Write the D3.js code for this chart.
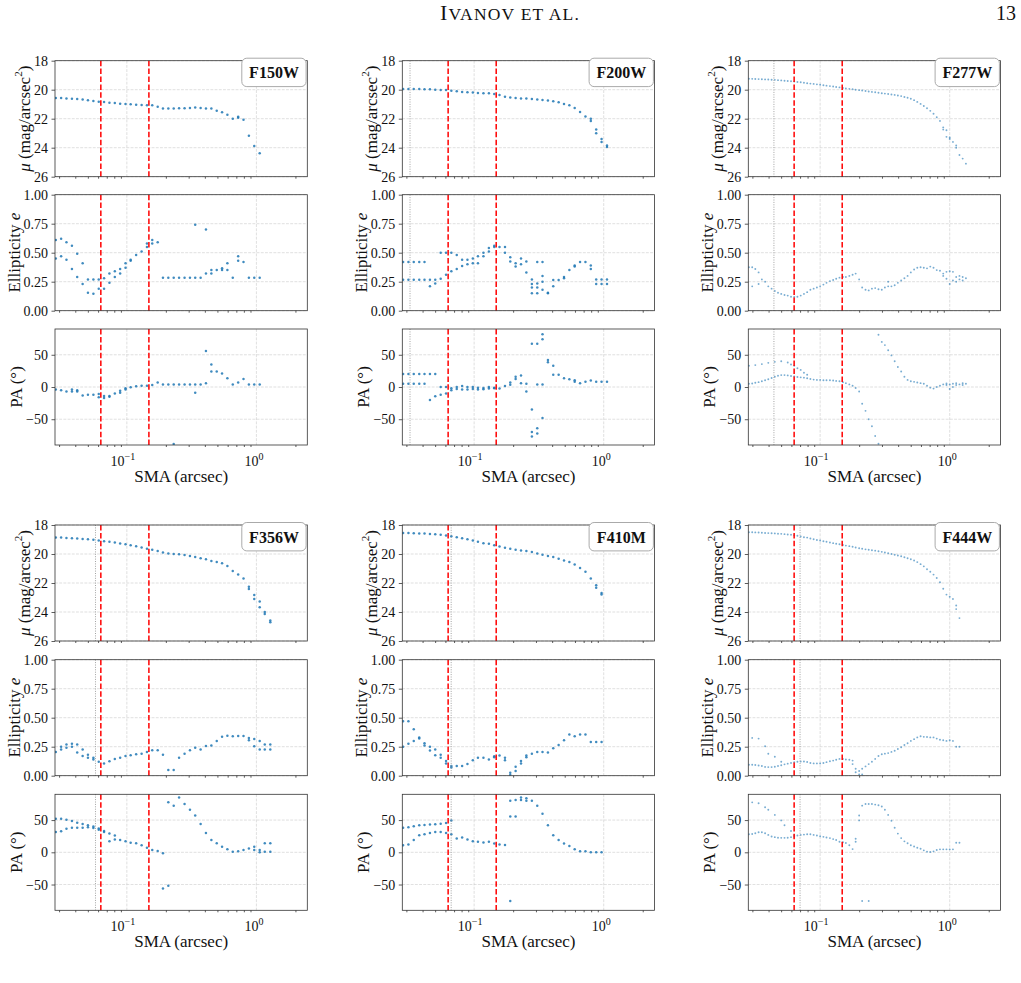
<!DOCTYPE html>
<html>
<head>
<meta charset="utf-8">
<script src="https://cdn.jsdelivr.net/npm/d3@7"></script>
<style>
  body { margin: 0; background: #fff; overflow: hidden; }
  svg { display: block; }
</style>
</head>
<body>
<script>
// ---- data ----
const filters = ["F150W", "F200W", "F277W", "F356W", "F410M", "F444W"];
const psfLines = [null, 0.032, 0.044, 0.0573, 0.0665, 0.070];   // grey dotted
const apertureLines = [0.063, 0.148];                           // red dashed

const muTicks = [18, 20, 22, 24, 26];
const eTicks = [0, 0.25, 0.5, 0.75, 1];
const paTicks = [-50, 0, 50];
const xMajor = [0.1, 1];
const xMinor = [0.03, 0.04, 0.05, 0.06, 0.07, 0.08, 0.09, 0.2, 0.3, 0.4, 0.5, 0.6, 0.7, 0.8, 0.9, 2];

// isophote grids (SMA, arcsec)
const smaCoarse = [0.0283,0.0311,0.0342,0.0377,0.0414,0.0456,0.0501,0.0552,0.0607,0.0667,0.0734,0.0808,0.0888,0.0977,0.107,0.118,0.130,0.143,0.157,0.173,0.190,0.209,0.230,0.253,0.279,0.307,0.337,0.371,0.408,0.449,0.494,0.543,0.597,0.657,0.723,0.795,0.875,0.962,1.06,1.16,1.28];
const smaFine = [0.0282,0.0299,0.0316,0.0335,0.0355,0.0376,0.0398,0.0422,0.0447,0.0473,0.0501,0.0531,0.0562,0.0596,0.0631,0.0668,0.0708,0.0750,0.0794,0.0841,0.0891,0.0944,0.100,0.106,0.112,0.119,0.126,0.133,0.141,0.150,0.158,0.168,0.178,0.188,0.200,0.211,0.224,0.237,0.251,0.266,0.282,0.299,0.316,0.335,0.355,0.376,0.398,0.422,0.447,0.473,0.501,0.531,0.562,0.596,0.631,0.668,0.708,0.750,0.794,0.841,0.891,0.944,1.000,1.059,1.122,1.189,1.259,1.334];

// F150W
const muF150W = [20.57,20.57,20.6,20.62,20.64,20.67,20.73,20.78,20.83,20.85,20.9,20.92,20.97,20.99,21.01,21.03,21.06,21.08,21.08,21.17,21.29,21.29,21.29,21.28,21.28,21.26,21.22,21.26,21.3,21.29,21.45,21.56,21.72,22.0,21.86,22.07,23.17,23.88,24.39,null,null];
const muF150WX = [[0.723,21.93]];
const eF150W = [.61,.62,.59,.56,.49,.41,.27,.27,.27,.19,.24,.29,.32,.37,.43,.48,.51,.55,.58,.59,.285,.285,.285,.285,.285,.285,.285,.285,.32,.35,.35,.365,.41,.285,.47,.42,.285,.285,.285,null,null];
const eF150WX = [[.0283,.45],[.0311,.47],[.0342,.44],[.0377,.36],[.0414,.29],[.0456,.23],[.0501,.155],[.0552,.147],[.0607,.19],[.0667,.28],[.0734,.32],[.0808,.34],[.0888,.36],[.0977,.41],[.107,.44],[.143,.58],[.157,.61],[.337,.74],[.408,.70],[.449,.32],[.543,.35],[.597,.35],[.723,.43]];
const paF150W = [-4,-5,-7,-4,-5,-13,-12,-12,-16,-17,-15,-10,-9,-4,-0.5,1,2,2,3,7,4,4,4,4,4,4,4,4,6,35,24,21,13.5,4,7,12.5,4,4,4,null,null];
const paF150WX = [[.0377,-7],[.0414,-7],[.0607,-11],[.0667,-14],[.0734,-14],[.0888,-6],[.0977,-2],[.337,-9],[.408,56],[.449,24],[.230,-88.5]];

// F200W
const muF200W = [19.95,19.95,19.95,19.95,19.97,19.97,20.0,20.02,20.02,20.07,20.11,20.16,20.18,20.2,20.23,20.25,20.25,20.3,20.37,20.48,20.53,20.57,20.6,20.6,20.64,20.67,20.71,20.74,20.8,20.87,20.99,21.08,21.26,21.54,21.85,22.0,22.75,23.4,23.85,null,null];
const muF200WX = [[.795,22.15],[.875,23.0],[.962,23.6],[1.06,23.95]];
const eF200W = [.42,.42,.42,.42,.42,.267,.267,.275,.31,.34,.36,.385,.4,.41,.41,.47,.54,.56,.55,.55,.46,.38,.40,.425,.27,.42,.42,.155,.21,.265,.28,.35,.38,.42,.42,.39,.27,.27,.27,null,null];
const eF200WX = [[.0283,.267],[.0311,.267],[.0342,.267],[.0377,.267],[.0414,.267],[.0456,.21],[.0501,.235],[.0552,.5],[.0607,.5],[.0667,.5],[.0734,.48],[.0808,.44],[.0888,.44],[.0977,.45],[.107,.47],[.118,.5],[.130,.51],[.143,.55],[.173,.5],[.190,.425],[.209,.41],[.230,.45],[.253,.33],[.279,.23],[.279,.2],[.279,.15],[.307,.235],[.307,.2],[.307,.15],[.337,.3],[.337,.25],[.337,.18],[.371,.15],[.408,.265],[.494,.29],[.597,.39],[.795,.36],[.875,.23],[.962,.23],[1.06,.23]];
const paF200W = [20,20,20,20,20,20,20,-12,-10,-5,-3,-4,-4,-3,-4,-3.5,-2.5,-2,-2.5,1.5,7,12.5,18,-7,-35,-64,-48,42,33,19,13.5,12,8,6,8,10,8,8,8,null,null];
const paF200WX = [[.0283,5],[.0311,5],[.0342,5],[.0377,5],[.0414,5],[.0456,-20],[.0501,-14.5],[.0552,0],[.0607,0],[.0667,-2],[.0734,0],[.0808,1.5],[.0888,0],[.0977,0],[.107,-1],[.118,-1.5],[.130,0],[.143,-1],[.190,3.5],[.209,16],[.230,5.7],[.253,5],[.279,-70],[.279,-77],[.279,67],[.307,-72],[.307,67],[.307,4],[.337,74],[.337,82],[.337,4],[.371,38.5],[.408,19],[.597,10.5]];

// F277W
const muF277W = [19.24,19.25,19.26,19.27,19.28,19.29,19.3,19.31,19.32,19.34,19.36,19.38,19.4,19.42,19.44,19.47,19.49,19.52,19.55,19.58,19.6,19.63,19.66,19.69,19.72,19.75,19.78,19.81,19.84,19.88,19.91,19.94,19.97,20.0,20.03,20.06,20.09,20.12,20.15,20.18,20.21,20.24,20.27,20.3,20.33,20.36,20.4,20.44,20.5,20.55,20.62,20.72,20.84,20.98,21.12,21.28,21.46,21.66,21.9,22.15,22.6,22.8,23.3,23.6,23.85,24.5,24.75,25.1];
const muF277WX = [[.891,22.75],[.944,23.25],[1.0,23.4],[1.122,24.0]];
const eF277W = [.375,.375,.36,.33,.27,.25,.21,.19,.17,.155,.145,.135,.13,.12,.118,.12,.13,.145,.16,.18,.19,.2,.21,.225,.24,.255,.265,.275,.285,.29,.29,.3,.31,.32,.27,.2,.18,.175,.19,.195,.185,.18,.2,.21,.21,.22,.24,.26,.28,.3,.33,.355,.37,.375,.37,.365,.38,.37,.35,.345,.32,.275,.23,.335,.29,.27,.29,.28];
const eF277WX = [[.0299,.21],[.0335,.23],[.335,.25],[.891,.30],[.944,.335],[1.0,.34],[1.059,.26],[1.122,.25],[1.189,.3],[1.259,.26]];
const paF277W = [5,5.5,6.5,7.5,9,10.5,12,14,16,17.5,18.5,18.5,18,17,16.5,15.5,15,14.5,13.5,12.5,11.5,11,11,10.5,10.5,10.4,10,9.5,9,7.5,6,4,2,-1.5,-7,-26,-37,-50,-61,-76,-88,70,65,57,49,40,31,24,16,11,9,8,7,6,5,2,-1,-2.5,0,2,4,5.5,-3,0,6,4,6,5];
const paF277WX = [[.0282,33],[.0316,34],[.0355,35.5],[.0398,37.5],[.0447,39],[.0501,40],[.0562,38],[.0596,35],[.0631,33],[.0668,29],[.0708,26.5],[.0750,22],[.0794,19],[.282,81],[.944,3],[1.0,4],[1.059,5],[1.122,3],[1.259,3]];

// F356W
const muF356W = [18.87,18.87,18.89,18.91,18.93,18.96,18.98,19.02,19.07,19.12,19.16,19.2,19.28,19.32,19.39,19.46,19.55,19.64,19.71,19.8,19.89,19.96,20.0,20.02,20.07,20.14,20.21,20.3,20.37,20.48,20.55,20.64,20.82,21.17,21.42,21.69,22.26,22.83,23.28,24.0,24.58];
const muF356WX = [[.875,22.42],[.962,23.1],[1.06,23.67],[1.16,24.13],[1.28,24.7]];
const eF356W = [.205,.225,.24,.25,.2,.17,.155,.14,.12,.105,.125,.143,.155,.17,.177,.185,.19,.205,.22,.22,.18,.05,.05,.155,.19,.22,.24,.225,.255,.26,.3,.335,.345,.34,.343,.343,.325,.317,.3,.27,.27];
const eF356WX = [[.0311,.25],[.0342,.27],[.0377,.275],[.0414,.27],[.0456,.225],[.0501,.18],[.0552,.155],[.875,.305],[.962,.254],[1.06,.225],[1.16,.225],[1.28,.225]];
const paF356W = [31.6,32.6,36.7,38,38,38,39,37.8,35,31.6,17,20,19,17,15,14,11,7,3.5,2,-1.5,-52,72.4,85,75,66,57,44,30,19,14,8.7,4.6,1,1.5,3.6,6,8.7,3.6,14,14];
const paF356WX = [[.0283,52],[.0311,52],[.0342,50.5],[.0377,48.5],[.0414,46],[.0456,44],[.0501,42],[.0552,40],[.0607,37],[.0667,33],[.0734,29],[.0808,26],[.190,-56],[.209,77.5],[.962,3.6],[1.06,0],[1.16,1],[1.28,1]];

// F410M
const muF410M = [18.55,18.55,18.57,18.59,18.59,18.62,18.64,18.68,18.73,18.77,18.84,18.91,18.98,19.07,19.16,19.25,19.3,19.39,19.48,19.57,19.64,19.71,19.75,19.8,19.87,19.96,20.05,20.14,20.21,20.32,20.44,20.55,20.73,20.96,21.23,21.69,22.15,22.69,null,null,null];
const muF410MX = [[.875,22.33],[.962,22.8]];
const eF410M = [.47,.47,.4,.33,.28,.217,.177,.155,.126,.083,.083,.083,.1,.134,.155,.155,.14,.16,.175,.155,.026,.077,.126,.175,.19,.205,.205,.2,.237,.265,.305,.355,.34,.355,.355,.29,.29,.29,null,null,null];
const eF410MX = [[.0283,.25],[.0311,.275],[.0342,.3],[.0377,.32],[.0414,.26],[.0456,.25],[.0501,.225],[.0552,.18],[.0607,.105],[.0667,.07],[.143,.168],[.173,.134],[.190,.006],[.209,.04],[.230,.105],[.253,.16]];
const paF410M = [11,12,19,26.5,28,30,31.6,31.6,30,28,21.4,23,20,17.3,16.3,15.3,16.3,13.8,12.2,11.2,-75.5,55.6,85,84,80,72.4,60,42,26.5,19,13.8,9.7,4.6,1.5,1.5,0,0,0,null,null,null];
const paF410MX = [[.0283,38],[.0311,39],[.0342,40.5],[.0377,42],[.0414,42.5],[.0456,43],[.0501,43.4],[.0552,44.4],[.0607,45.4],[.0667,49.5],[.190,80],[.190,55.6],[.209,81],[.230,81],[.253,80]];

// F444W
const muF444W = [18.5,18.5,18.51,18.52,18.53,18.55,18.56,18.57,18.58,18.6,18.61,18.63,18.65,18.67,18.7,18.74,18.79,18.84,18.87,18.93,18.98,19.03,19.07,19.12,19.16,19.21,19.25,19.29,19.33,19.38,19.42,19.46,19.5,19.55,19.6,19.64,19.68,19.71,19.74,19.77,19.81,19.85,19.9,19.95,20.0,20.05,20.1,20.16,20.22,20.29,20.36,20.45,20.56,20.7,20.85,21.05,21.22,21.42,21.65,21.95,22.4,22.8,22.95,23.1,23.55,24.42,null,null];
const muF444WX = [[1.122,23.8]];
const eF444W = [.094,.095,.092,.088,.083,.076,.074,.074,.077,.083,.09,.098,.104,.11,.116,.12,.123,.123,.118,.11,.106,.106,.106,.11,.117,.125,.13,.138,.145,.145,.14,.138,.1,.03,.011,.011,.08,.1,.12,.145,.17,.185,.19,.195,.205,.215,.23,.245,.265,.28,.3,.315,.33,.34,.335,.333,.33,.33,.32,.31,.305,.3,.305,.3,.25,.25,null,null];
const eF444WX = [[.0299,.326],[.0335,.32],[.0376,.254],[.0398,.189],[.0447,.163],[.0501,.12],[.178,.13],[.188,.06],[.200,.04],[.211,.06]];
const paF444W = [28,28.5,29.5,31,31,29.5,27,24.5,23.5,22.5,22.4,22.4,22.5,23.5,24,26,27,27.5,28,28,27,26,25,24,23,22,20.5,19,16.3,15.5,14.5,11,5,21,57,72.4,75,75,75,74,73,71,66,58,49,38,29,22,17,14,11,9,7,5.5,3,1,0.5,1.5,3.5,4.6,4.6,4.6,4.6,4.6,14.8,14.8,null,null];
const paF444WX = [[.0299,77.5],[.0335,76],[.0376,70],[.0398,66],[.0447,58],[.0501,49.5],[.0531,42],[.0596,33],[.0631,26.5],[.188,16.3],[.200,49.5],[.211,-75.5],[.237,-75.5]];

// ---- layout ----
const xDomain = [0.0279, 2.47];
const colLeft = [55, 402.3, 748.3];
const axW = 252.3, axH = 116;
const rowTops = [[60.7, 194.7, 329], [525, 659.7, 794.3]];
const serif = '"Liberation Serif", "DejaVu Serif", serif';
const blue = "#1f77b4";

const profiles = [
    {sma: smaCoarse, mu: muF150W, muX: muF150WX, e: eF150W, eX: eF150WX, pa: paF150W, paX: paF150WX, dense: false},
    {sma: smaCoarse, mu: muF200W, muX: muF200WX, e: eF200W, eX: eF200WX, pa: paF200W, paX: paF200WX, dense: false},
    {sma: smaFine, mu: muF277W, muX: muF277WX, e: eF277W, eX: eF277WX, pa: paF277W, paX: paF277WX, dense: true},
    {sma: smaCoarse, mu: muF356W, muX: muF356WX, e: eF356W, eX: eF356WX, pa: paF356W, paX: paF356WX, dense: false},
    {sma: smaCoarse, mu: muF410M, muX: muF410MX, e: eF410M, eX: eF410MX, pa: paF410M, paX: paF410MX, dense: false},
    {sma: smaFine, mu: muF444W, muX: muF444WX, e: eF444W, eX: eF444WX, pa: paF444W, paX: paF444WX, dense: true},
];

const svg = d3.select("body").append("svg")
    .attr("width", 1021)
    .attr("height", 983)
    .style("font-family", serif);
const defs = svg.append("defs");

// running head
svg.append("text")
    .attr("x", 510).attr("y", 20)
    .attr("text-anchor", "middle")
    .attr("letter-spacing", 1.2)
    .attr("fill", "#111")
    .call(t => {
        t.append("tspan").attr("font-size", 22).text("I");
        t.append("tspan").attr("font-size", 17.5).text("VANOV ET AL.");
    });
svg.append("text")
    .attr("x", 1016).attr("y", 20)
    .attr("text-anchor", "end")
    .attr("font-size", 20)
    .attr("fill", "#111")
    .text("13");

function joinPoints(sma, main, extra) {
    const pts = [];
    sma.forEach((s, i) => {
        if (main[i] !== null && main[i] !== undefined) pts.push([s, main[i]]);
    });
    return pts.concat(extra);
}

let clipCount = 0;

function renderPanel(opts) {
    const {left, top, kind, pts, psf, dense, filterName, showXLabels} = opts;
    const x = d3.scaleLog().domain(xDomain).range([left, left + axW]);
    let y, ticks, fmt, yLabelOffset;
    if (kind === "mu") {
        y = d3.scaleLinear().domain([18, 26]).range([top, top + axH]);
        ticks = muTicks; fmt = d => d; yLabelOffset = 31;
    } else if (kind === "e") {
        y = d3.scaleLinear().domain([0, 1]).range([top + axH, top]);
        ticks = eTicks; fmt = d3.format(".2f"); yLabelOffset = 41;
    } else {
        y = d3.scaleLinear().domain([-90, 90]).range([top + axH, top]);
        ticks = paTicks; fmt = d => d < 0 ? "\u2212" + Math.abs(d) : String(d); yLabelOffset = 39;
    }

    const g = svg.append("g").attr("class", "panel " + kind);
    const clipId = "clip" + (clipCount++);
    defs.append("clipPath").attr("id", clipId).append("rect")
        .attr("x", left).attr("y", top).attr("width", axW).attr("height", axH);

    // grid
    const grid = g.append("g")
        .attr("stroke", "#c8c8c8")
        .attr("stroke-width", 0.8)
        .attr("stroke-dasharray", "2.9,1.3")
        .attr("stroke-opacity", 0.7);
    grid.selectAll("line.gx").data(xMajor).join("line")
        .attr("class", "gx")
        .attr("x1", d => x(d)).attr("x2", d => x(d))
        .attr("y1", top).attr("y2", top + axH);
    grid.selectAll("line.gy").data(ticks).join("line")
        .attr("class", "gy")
        .attr("x1", left).attr("x2", left + axW)
        .attr("y1", d => y(d)).attr("y2", d => y(d));

    // isophote points
    g.append("g")
        .attr("clip-path", `url(#${clipId})`)
        .selectAll("circle").data(pts).join("circle")
        .attr("cx", d => x(d[0]))
        .attr("cy", d => y(d[1]))
        .attr("r", dense ? 0.95 : 1.25)
        .attr("fill", blue)
        .attr("fill-opacity", dense ? 0.6 : 0.85);

    // PSF and aperture markers
    if (psf !== null) {
        g.append("line")
            .attr("x1", x(psf)).attr("x2", x(psf))
            .attr("y1", top).attr("y2", top + axH)
            .attr("stroke", "#999").attr("stroke-width", 0.9)
            .attr("stroke-dasharray", "1,1.4");
    }
    g.selectAll("line.ap").data(apertureLines).join("line")
        .attr("class", "ap")
        .attr("x1", d => x(d)).attr("x2", d => x(d))
        .attr("y1", top).attr("y2", top + axH)
        .attr("stroke", "#ff0000").attr("stroke-width", 1.5)
        .attr("stroke-dasharray", "5.5,2.4");

    // frame
    g.append("rect")
        .attr("x", left).attr("y", top).attr("width", axW).attr("height", axH)
        .attr("fill", "none").attr("stroke", "#333").attr("stroke-width", 0.8);

    // x ticks
    const xg = g.append("g").attr("transform", `translate(0,${top + axH})`);
    xg.call(d3.axisBottom(x).tickValues(xMajor).tickSize(3.5).tickFormat(""));
    xg.call(d3.axisBottom(x).tickValues(xMinor).tickSize(2).tickFormat(""));
    xg.selectAll(".domain").remove();
    xg.selectAll("line").attr("stroke", "#333").attr("stroke-width", 0.8);

    if (showXLabels) {
        const lab = g.append("g").attr("font-size", 14).attr("fill", "#111").attr("text-anchor", "middle");
        [[0.1, "\u22121"], [1, "0"]].forEach(([v, ex]) => {
            const t = lab.append("text")
                .attr("x", x(v) - (ex.length > 1 ? 4 : 2.5))
                .attr("y", top + axH + 21);
            t.append("tspan").text("10");
            t.append("tspan").attr("font-size", 10).attr("dy", -6).text(ex);
        });
        g.append("text")
            .attr("x", left + axW / 2).attr("y", top + axH + 36.5)
            .attr("text-anchor", "middle").attr("font-size", 17).attr("fill", "#111")
            .text("SMA (arcsec)");
    }

    // y ticks
    const yg = g.append("g").attr("transform", `translate(${left},0)`);
    yg.call(d3.axisLeft(y).tickValues(ticks).tickSize(3.5).tickPadding(3.5).tickFormat(fmt));
    yg.selectAll(".domain").remove();
    yg.selectAll("line").attr("stroke", "#333").attr("stroke-width", 0.8);
    yg.attr("font-family", serif).attr("font-size", 14);
    yg.selectAll("text").attr("fill", "#111");

    // y label
    const yl = g.append("text")
        .attr("transform", `translate(${left - yLabelOffset},${top + axH / 2}) rotate(-90)`)
        .attr("text-anchor", "middle")
        .attr("dominant-baseline", "central")
        .attr("font-size", 17).attr("fill", "#111");
    if (kind === "mu") {
        yl.append("tspan").attr("font-style", "italic").text("\u03bc");
        yl.append("tspan").text(" (mag/arcsec");
        yl.append("tspan").attr("font-size", 11).attr("dy", -6).text("2");
        yl.append("tspan").attr("dy", 6).text(")");
    } else if (kind === "e") {
        yl.append("tspan").text("Ellipticity ");
        yl.append("tspan").attr("font-style", "italic").text("e");
    } else {
        yl.text("PA (\u00b0)");
    }

    // filter tag
    if (filterName) {
        g.append("rect")
            .attr("x", left + axW - 65.5).attr("y", top - 2.5)
            .attr("width", 64.3).attr("height", 28.4)
            .attr("rx", 5)
            .attr("fill", "#fff").attr("stroke", "#aaa").attr("stroke-width", 1);
        g.append("text")
            .attr("x", left + axW - 33.3).attr("y", top + 17.5)
            .attr("text-anchor", "middle")
            .attr("font-size", 16).attr("font-weight", "bold").attr("fill", "#111")
            .text(filterName);
    }
}

filters.forEach((name, i) => {
    const p = profiles[i];
    const row = Math.floor(i / 3), col = i % 3;
    const left = colLeft[col];
    const tops = rowTops[row];
    renderPanel({left, top: tops[0], kind: "mu", pts: joinPoints(p.sma, p.mu, p.muX),
        psf: psfLines[i], dense: p.dense, filterName: name, showXLabels: false});
    renderPanel({left, top: tops[1], kind: "e", pts: joinPoints(p.sma, p.e, p.eX),
        psf: psfLines[i], dense: p.dense, filterName: null, showXLabels: false});
    renderPanel({left, top: tops[2], kind: "pa", pts: joinPoints(p.sma, p.pa, p.paX),
        psf: psfLines[i], dense: p.dense, filterName: null, showXLabels: true});
});
</script>
</body>
</html>
